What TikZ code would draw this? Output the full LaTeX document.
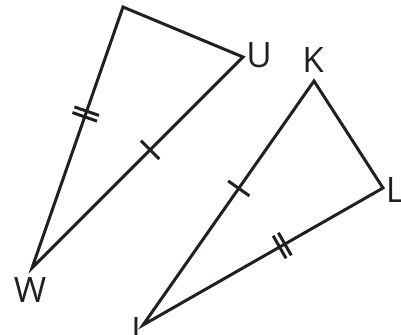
\documentclass[tikz,border=0pt]{standalone}
\usepackage{fontspec}
\setmainfont{Open Sans}
\usepackage{xcolor}
\definecolor{figline}{HTML}{231F20}
\usetikzlibrary{decorations.markings}

\begin{document}
\begin{tikzpicture}[x=0.5pt, y=-0.5pt,
  side/.style={draw=figline, line width=1.5pt},
  vlabel/.style={font=\fontsize{17.5}{20}\selectfont, text=figline,
                 inner sep=0pt},
  singletick/.style={decoration={markings, mark=at position #1 with
      {\draw[side] (0,-6.5pt) -- (0,6.5pt);}}, postaction={decorate}},
  doubletick/.style={decoration={markings, mark=at position #1 with
      {\draw[side] (-1.5pt,-6.5pt) -- (-1.5pt,6.5pt)
                   (1.5pt,-6.5pt) -- (1.5pt,6.5pt);}}, postaction={decorate}}
]
\useasboundingbox (0,0) rectangle (401,334);

%% vertices
\coordinate (T) at (123,7);
\coordinate (U) at (243,57);
\coordinate (W) at (32,268);
\coordinate (K) at (314,81);
\coordinate (L) at (383,188);
\coordinate (J) at (143,325);

%% triangles
\draw[side] (T) -- (U) -- (W) -- cycle;
\draw[side] (K) -- (L) -- (J) -- cycle;

%% congruence marks
\path[doubletick=0.41] (T) -- (W);
\path[singletick=0.44] (U) -- (W);
\path[singletick=0.44] (K) -- (J);
\path[doubletick=0.42] (L) -- (J);

%% labels
\node[vlabel] (labU) at (259,55)  {U};
\node[vlabel] (labK) at (313,60)  {K};
\node[vlabel] (labL) at (395,190) {L};
\node[vlabel] (labW) at (30,290)  {W};
\node[vlabel] (labJ) at (136,333) {J};

\end{tikzpicture}
\end{document}
